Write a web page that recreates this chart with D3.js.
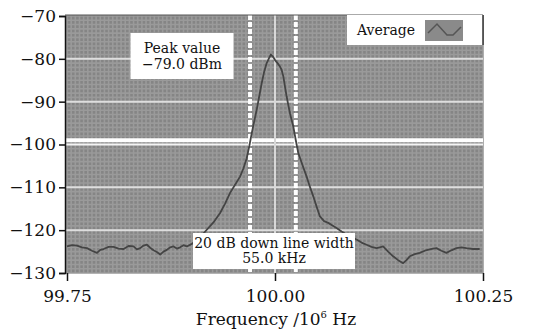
<!DOCTYPE html>
<html>
<head>
<meta charset="utf-8">
<script src="https://cdn.jsdelivr.net/npm/d3@7"></script>
<style>
  html, body { margin: 0; padding: 0; background: #fff; }
  svg { display: block; }
  text { font-family: "DejaVu Serif", serif; fill: #111; }
</style>
</head>
<body>
<div id="chart"></div>
<script>
// Averaged spectrum trace (frequency in MHz, level in dBm)
const freqMHz = [
  99.750, 99.756, 99.762, 99.768, 99.774, 99.780, 99.786, 99.790, 99.794, 99.800,
  99.806, 99.812, 99.818, 99.824, 99.830, 99.834, 99.838, 99.842, 99.846, 99.850,
  99.854, 99.858, 99.862, 99.866, 99.870, 99.874, 99.878, 99.882, 99.886, 99.890,
  99.894, 99.900, 99.906, 99.912, 99.918, 99.926, 99.934, 99.940, 99.946, 99.952,
  99.958, 99.962, 99.966, 99.969, 99.972, 99.975, 99.978, 99.981, 99.984, 99.987,
  99.990, 99.993, 99.995, 99.998, 100.000, 100.003, 100.006, 100.008, 100.010, 100.012,
  100.014, 100.016, 100.018, 100.020, 100.022, 100.025, 100.028, 100.033, 100.038, 100.042,
  100.046, 100.050, 100.054, 100.059, 100.064, 100.069, 100.074, 100.080, 100.086, 100.092,
  100.098, 100.104, 100.110, 100.116, 100.122, 100.126, 100.130, 100.136, 100.142, 100.148,
  100.154, 100.158, 100.162, 100.168, 100.174, 100.180, 100.186, 100.190, 100.194, 100.200,
  100.206, 100.212, 100.218, 100.224, 100.230, 100.238, 100.246
];
const levelDbm = [
  -123.8, -123.5, -123.6, -124.0, -124.2, -124.8, -125.3, -124.6, -124.4, -123.9,
  -123.9, -124.3, -124.4, -123.7, -123.8, -124.5, -124.2, -123.6, -123.4, -124.1,
  -124.7, -125.1, -125.7, -125.0, -124.6, -124.0, -123.8, -124.3, -124.0, -123.5,
  -123.8, -123.2, -122.5, -121.2, -119.9, -118.2, -116.0, -113.8, -111.3, -109.4,
  -107.5, -105.6, -103.2, -100.5, -97.4, -94.6, -91.9, -88.8, -85.7, -83.0,
  -81.0, -79.8, -79.0, -79.6, -80.3, -81.0, -81.8, -82.6, -84.1, -86.5,
  -88.8, -90.8, -92.7, -94.3, -95.8, -99.0, -102.0, -104.8, -107.5, -109.9,
  -112.1, -114.5, -116.8, -117.9, -118.3, -118.9, -119.5, -120.3, -121.0, -121.6,
  -122.2, -122.9, -123.4, -123.9, -124.2, -124.0, -123.8, -125.0, -126.1, -127.0,
  -127.7, -127.0, -126.1, -125.6, -125.3, -124.8, -124.5, -124.3, -124.2, -124.8,
  -125.3, -124.7, -124.2, -124.0, -124.2, -124.4, -124.4
];

const yTicks = [-70, -80, -90, -100, -110, -120, -130];
const xTicks = [99.75, 100.00, 100.25];
const majorLevels = [-80, -90, -100, -110, -120];
const markerFreqs = [99.970, 100.025];   // 20 dB down points
const centerFreq = 100.00;
const downLevel = -99.0;                 // peak - 20 dB
const peakText = ["Peak value", "\u221279.0 dBm"];
const widthText = ["20 dB down line width", "55.0 kHz"];
const legendLabel = "Average";

const W = 538, H = 334;
const plot = { left: 65, right: 483, top: 15, bottom: 273 };

const svg = d3.select("#chart").append("svg")
  .attr("width", W).attr("height", H);

const x = d3.scaleLinear().domain([99.75, 100.25]).range([67, 483]);
const y = d3.scaleLinear().domain([-130, -70]).range([273, 16]);

// plot background
svg.append("rect")
  .attr("x", plot.left).attr("y", plot.top)
  .attr("width", plot.right - plot.left).attr("height", plot.bottom - plot.top)
  .attr("fill", "#858585");

const grid = svg.append("g");

// fine analyzer grid
grid.selectAll(".vminor")
  .data(d3.range(0, 101).map(i => 99.75 + i * 0.005))
  .enter().append("line")
  .attr("x1", d => x(d)).attr("x2", d => x(d))
  .attr("y1", plot.top).attr("y2", plot.bottom)
  .attr("stroke", "#9a9a9a").attr("stroke-width", 1.6);

grid.selectAll(".hminor")
  .data(d3.range(-130, -69, 1))
  .enter().append("line")
  .attr("x1", plot.left).attr("x2", plot.right)
  .attr("y1", d => y(d)).attr("y2", d => y(d))
  .attr("stroke", "#9a9a9a").attr("stroke-width", 1.6);

// major horizontal grid lines
grid.selectAll(".hmajor")
  .data(majorLevels)
  .enter().append("line")
  .attr("x1", plot.left).attr("x2", plot.right)
  .attr("y1", d => y(d)).attr("y2", d => y(d))
  .attr("stroke", d => d === -100 ? "#f4f4f4" : "#dedede")
  .attr("stroke-width", 2);

// 20 dB down level
grid.append("line")
  .attr("x1", plot.left).attr("x2", plot.right)
  .attr("y1", y(downLevel)).attr("y2", y(downLevel))
  .attr("stroke", "#fff").attr("stroke-width", 4);

// centre line
grid.append("line")
  .attr("x1", x(centerFreq)).attr("x2", x(centerFreq))
  .attr("y1", plot.top).attr("y2", plot.bottom)
  .attr("stroke", "#d8d8d8").attr("stroke-width", 2);

// marker lines
grid.selectAll(".marker")
  .data(markerFreqs)
  .enter().append("line")
  .attr("x1", d => x(d)).attr("x2", d => x(d))
  .attr("y1", plot.top).attr("y2", plot.bottom)
  .attr("stroke", "#fff").attr("stroke-width", 4)
  .attr("stroke-dasharray", "5,2");

// top edge
svg.append("line")
  .attr("x1", plot.left).attr("x2", plot.right)
  .attr("y1", plot.top).attr("y2", plot.top)
  .attr("stroke", "#555").attr("stroke-width", 1);

// trace
const line = d3.line()
  .x((d, i) => x(freqMHz[i]))
  .y(d => y(d));

svg.append("path")
  .datum(levelDbm)
  .attr("fill", "none")
  .attr("stroke", "#444")
  .attr("stroke-width", 1.8)
  .attr("stroke-linejoin", "round")
  .attr("d", line);

// annotation boxes
function box(cx, top, w, h, lines, size, gap) {
  const g = svg.append("g");
  g.append("rect")
    .attr("x", cx - w / 2).attr("y", top)
    .attr("width", w).attr("height", h)
    .attr("fill", "#fff");
  g.selectAll("text")
    .data(lines)
    .enter().append("text")
    .attr("x", cx)
    .attr("y", (d, i) => top + h / 2 - gap / 2 + i * gap + size * 0.35)
    .attr("text-anchor", "middle")
    .attr("font-size", size)
    .text(d => d);
}
box(182, 33, 103, 46, peakText, 14, 16);
box(274, 233, 162, 36, widthText, 14, 15);

// legend
const lg = svg.append("g");
lg.append("rect")
  .attr("x", 347).attr("y", 15).attr("width", 136).attr("height", 30)
  .attr("fill", "#fff");
lg.append("line")
  .attr("x1", 483).attr("x2", 483).attr("y1", 15).attr("y2", 45)
  .attr("stroke", "#333").attr("stroke-width", 1.5);
lg.append("text")
  .attr("x", 357).attr("y", 35)
  .attr("font-size", 14)
  .text(legendLabel);
lg.append("rect")
  .attr("x", 425).attr("y", 20).attr("width", 38).attr("height", 21)
  .attr("fill", "#8a8a8a");
lg.append("path")
  .attr("d", "M428,33 L437,24 L447,35 L453,35 L461,27")
  .attr("fill", "none").attr("stroke", "#555").attr("stroke-width", 1.5);

// axes
const yAxis = svg.append("g")
  .attr("transform", `translate(${plot.left},0)`)
  .call(d3.axisLeft(y).tickValues(yTicks).tickSize(6).tickPadding(3)
    .tickFormat(d => d3.format("d")(d).replace("-", "\u2212")));
yAxis.select(".domain").attr("stroke", "#111").attr("stroke-width", 1.5);
yAxis.selectAll(".tick line").attr("stroke", "#111").attr("stroke-width", 1.5);
yAxis.selectAll("text").attr("font-size", 17).attr("font-family", "DejaVu Serif").attr("fill", "#111");

const xAxis = svg.append("g")
  .attr("transform", `translate(0,${plot.bottom})`)
  .call(d3.axisBottom(x).tickValues(xTicks).tickSize(8).tickPadding(9)
    .tickFormat(d3.format(".2f")));
xAxis.select(".domain").remove();
xAxis.selectAll(".tick line").attr("stroke", "#111").attr("stroke-width", 1.5);
xAxis.selectAll("text").attr("font-size", 17).attr("font-family", "DejaVu Serif").attr("fill", "#111");

// x title
const title = svg.append("text")
  .attr("x", 276).attr("y", 325)
  .attr("text-anchor", "middle")
  .attr("font-size", 17);
title.append("tspan").text("Frequency /10");
title.append("tspan").attr("dy", -7).attr("font-size", 10).text("6");
title.append("tspan").attr("dy", 7).text(" Hz");
</script>
</body>
</html>
